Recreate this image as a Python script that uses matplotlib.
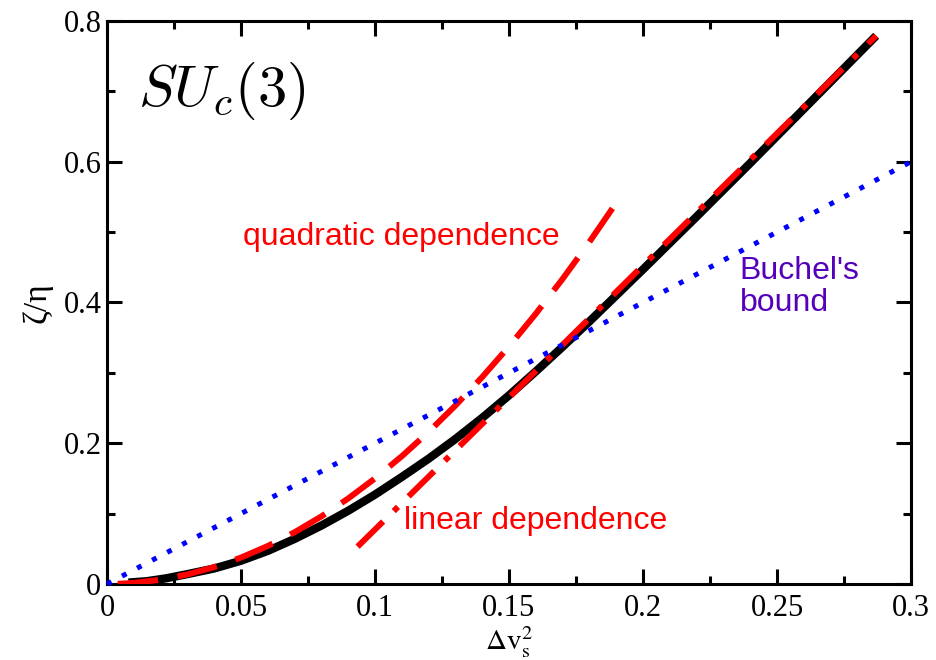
import matplotlib
matplotlib.use("Agg")
import matplotlib.pyplot as plt
from matplotlib.ticker import MultipleLocator

# full result (black)
res_x = [0.008, 0.015, 0.022, 0.03, 0.04, 0.05, 0.06, 0.07, 0.08, 0.09, 0.10, 0.11,
         0.12, 0.13, 0.14, 0.15, 0.16, 0.17, 0.18, 0.19, 0.20, 0.22, 0.24, 0.26, 0.287]
res_y = [0.002, 0.004, 0.008, 0.014, 0.022, 0.033, 0.047, 0.064, 0.083, 0.104, 0.127, 0.152,
         0.178, 0.206, 0.236, 0.268, 0.302, 0.337, 0.373, 0.410, 0.447, 0.522, 0.598, 0.675, 0.779]

# quadratic fit (red dashed)
quad_x = [0.004, 0.01, 0.02, 0.03, 0.04, 0.05, 0.06, 0.07, 0.08, 0.09, 0.10, 0.11, 0.12,
          0.13, 0.14, 0.15, 0.16, 0.17, 0.18, 0.19]
quad_y = [0.0002, 0.0015, 0.006, 0.0135, 0.024, 0.0375, 0.054, 0.0735, 0.096, 0.1215, 0.15,
          0.1815, 0.216, 0.2535, 0.294, 0.3375, 0.384, 0.4335, 0.486, 0.5415]

# linear fit (red dash-dot)
lin_x = [0.0935, 0.287]
lin_y = [0.053, 0.779]

# Buchel's bound (blue dotted)
bound_x = [0.0, 0.3]
bound_y = [0.0, 0.6]

x_ticks = [0, 0.05, 0.1, 0.15, 0.2, 0.25, 0.3]
x_tick_labels = ["0", "0.05", "0.1", "0.15", "0.2", "0.25", "0.3"]
y_ticks = [0, 0.2, 0.4, 0.6, 0.8]
y_tick_labels = ["0", "0.2", "0.4", "0.6", "0.8"]

serif = "Liberation Serif"
sans = "Liberation Sans"

fig = plt.figure(figsize=(9.36, 6.6), dpi=100)
ax = fig.add_axes([0.1143, 0.1152, 0.8590, 0.8530])

ax.plot(res_x, res_y, color="black", lw=6.0, solid_capstyle="butt",
        solid_joinstyle="round", zorder=2)
ax.plot(quad_x, quad_y, color="red", lw=4.3, dashes=(6.8, 3.3), zorder=3)
ax.plot(lin_x, lin_y, color="red", lw=4.3, dashes=(6, 2.5, 1, 2.5), zorder=3)
ax.plot(bound_x, bound_y, color="blue", lw=3.6, dashes=(1, 2.4), zorder=4, clip_on=False)

ax.set_xlim(0, 0.3)
ax.set_ylim(0, 0.8)
ax.set_xticks(x_ticks)
ax.set_xticklabels(x_tick_labels, fontfamily=serif, fontsize=22)
ax.set_yticks(y_ticks)
ax.set_yticklabels(y_tick_labels, fontfamily=serif, fontsize=22)
ax.xaxis.set_minor_locator(MultipleLocator(0.025))
ax.yaxis.set_minor_locator(MultipleLocator(0.1))
ax.tick_params(which="both", direction="in", top=True, right=True, width=2.2)
ax.tick_params(which="major", length=11)
ax.tick_params(which="minor", length=6)
ax.tick_params(axis="x", pad=7)
ax.tick_params(axis="y", pad=4)
for sp in ax.spines.values():
    sp.set_linewidth(2.2)

ax.set_xlabel(r"$\Delta\mathrm{v}_\mathrm{s}^2$", fontsize=21, math_fontfamily="stix", labelpad=1)
ax.set_ylabel("ζ/η", fontfamily=serif, fontsize=24, labelpad=8)

ax.text(0.0116, 0.70, r"$SU_c(3)$", fontsize=42, math_fontfamily="cm", va="center", ha="left")
ax.text(0.0507, 0.493, "quadratic dependence", color="red", fontfamily=sans, fontsize=23,
        va="center", ha="left")
ax.text(0.111, 0.0895, "linear dependence", color="red", fontfamily=sans, fontsize=23,
        va="center", ha="left")
ax.text(0.236, 0.422, "Buchel's\nbound", color="#5500bb", fontfamily=sans, fontsize=23,
        va="center", ha="left", linespacing=1.1)

fig.savefig("out.png", dpi=100)
